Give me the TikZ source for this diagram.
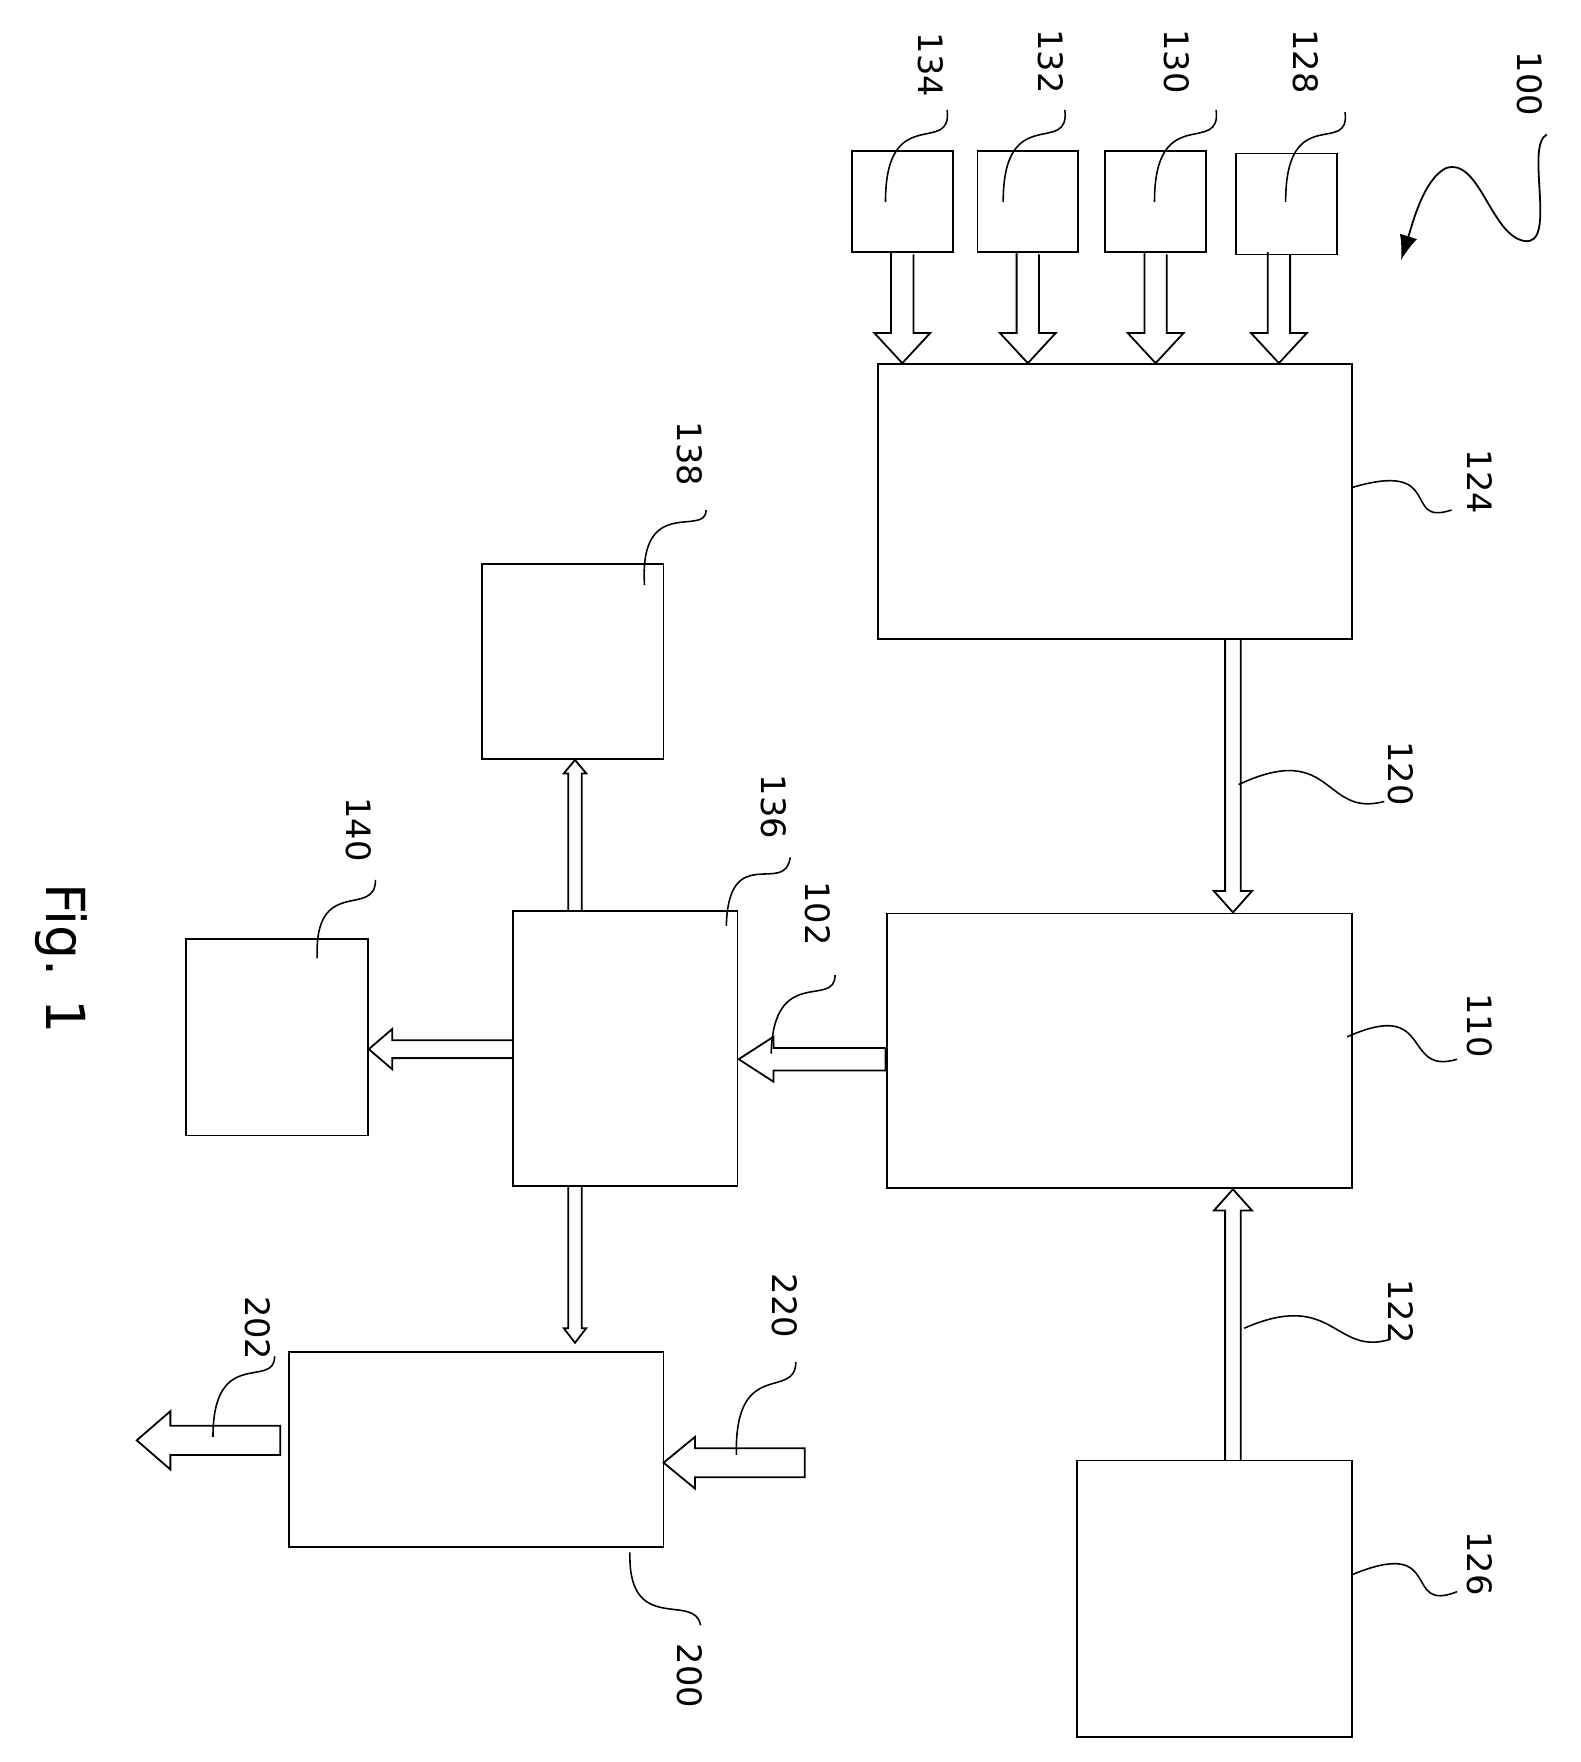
\documentclass[tikz,border=0pt]{standalone}
\usepackage{fontspec}
\setmainfont{DejaVu Sans}
\usetikzlibrary{arrows.meta}
\begin{document}
\begin{tikzpicture}[x=1pt,y=-1pt,line width=1.6pt,
 box/.style={draw},
 lab/.style={rotate=-90,font=\fontsize{30}{30}\selectfont,inner sep=0pt},
 lead/.style={line width=1.4pt}]
\useasboundingbox (0,0) rectangle (1410,1572);
% boxes
\draw (760,135) rectangle (850,225); \draw (872,135) rectangle (962,225);
\draw (986,135) rectangle (1076,225); \draw (1103,137) rectangle (1193,227);
\draw (783,325) rectangle (1206,570);
\draw (791,815) rectangle (1206,1060);
\draw (961,1303) rectangle (1206,1550);
\draw (430,503) rectangle (592,677);
\draw (458,813) rectangle (658,1058);
\draw (166,838) rectangle (328,1013);
\draw (258,1206) rectangle (592,1380);
% hollow down arrows into 124
\foreach \x in {805,917,1031,1141}{
 \draw (\x-10,225) -- (\x-10,297) -- (\x-25,297) -- (\x,324) -- (\x+25,297) -- (\x+10,297) -- (\x+10,227);}
% 120
\draw (1093,570) -- (1093,795) -- (1083,795) -- (1100,814) -- (1117,795) -- (1107,795) -- (1107,570);
% 122
\draw (1093,1303) -- (1093,1080) -- (1083,1080) -- (1100,1061) -- (1117,1080) -- (1107,1080) -- (1107,1303);
% 102
\draw (790,935) -- (690,935) -- (690,925) -- (659,945) -- (690,965) -- (690,955) -- (790,955) -- cycle;
% 136 -> 140
\draw (458,928) -- (350,928) -- (350,918) -- (329,936) -- (350,954) -- (350,944) -- (458,944);
% 136 <-> 138
\draw (507,813) -- (507,690) -- (503,690) -- (513,678) -- (523,690) -- (519,690) -- (519,813);
% 136 <-> 200
\draw (507,1059) -- (507,1185) -- (503,1185) -- (513,1198) -- (523,1185) -- (519,1185) -- (519,1059);
% 220
\draw (718,1292) -- (620,1292) -- (620,1282) -- (592,1305) -- (620,1328) -- (620,1318) -- (718,1318) -- cycle;
% 202
\draw (250,1272) -- (152,1272) -- (152,1259) -- (122,1285) -- (152,1311) -- (152,1298) -- (250,1298) -- cycle;
% curved arrow 100
\draw[-{Latex[length=22pt,width=16pt]}] (1380,120) .. controls (1360,130) and (1390,220) .. (1360,215) .. controls (1330,210) and (1320,140) .. (1290,150) .. controls (1270,160) and (1260,200) .. (1250,232);
% leaders
\draw[lead] (790,180) .. controls (790,90) and (850,140) .. (845,98);
\draw[lead] (895,180) .. controls (895,90) and (955,140) .. (950,98);
\draw[lead] (1030,180) .. controls (1030,90) and (1090,140) .. (1085,98);
\draw[lead] (1147,180) .. controls (1147,90) and (1205,140) .. (1200,100);
\draw[lead] (1206,435) .. controls (1290,410) and (1250,470) .. (1295,455);
\draw[lead] (1105,700) .. controls (1190,660) and (1180,730) .. (1235,715);
\draw[lead] (1202,925) .. controls (1280,890) and (1250,960) .. (1300,945);
\draw[lead] (1110,1185) .. controls (1190,1150) and (1190,1210) .. (1240,1195);
\draw[lead] (1206,1405) .. controls (1290,1370) and (1250,1440) .. (1300,1420);
\draw[lead] (575,522) .. controls (570,440) and (630,480) .. (630,455);
\draw[lead] (648,826) .. controls (650,750) and (700,800) .. (705,765);
\draw[lead] (688,940) .. controls (690,860) and (745,900) .. (745,870);
\draw[lead] (283,855) .. controls (280,780) and (335,820) .. (335,785);
\draw[lead] (657,1298) .. controls (655,1210) and (710,1250) .. (710,1215);
\draw[lead] (190,1282) .. controls (190,1200) and (245,1240) .. (245,1210);
\draw[lead] (562,1385) .. controls (560,1460) and (620,1420) .. (625,1450);
% labels
\node[lab] at (830,58) {134}; \node[lab] at (937,55) {132};
\node[lab] at (1050,55) {130}; \node[lab] at (1165,55) {128};
\node[lab] at (1365,75) {100};
\node[lab] at (1320,430) {124}; \node[lab] at (1250,690) {120};
\node[lab] at (1320,915) {110}; \node[lab] at (1250,1170) {122};
\node[lab] at (1320,1395) {126}; \node[lab] at (615,405) {138};
\node[lab] at (690,720) {136}; \node[lab] at (730,815) {102};
\node[lab] at (320,740) {140}; \node[lab] at (700,1165) {220};
\node[lab] at (230,1185) {202}; \node[lab] at (615,1495) {200};
\node[rotate=-90,font=\fontsize{48}{48}\selectfont] at (55,855) {Fig. 1};
\end{tikzpicture}
\end{document}
